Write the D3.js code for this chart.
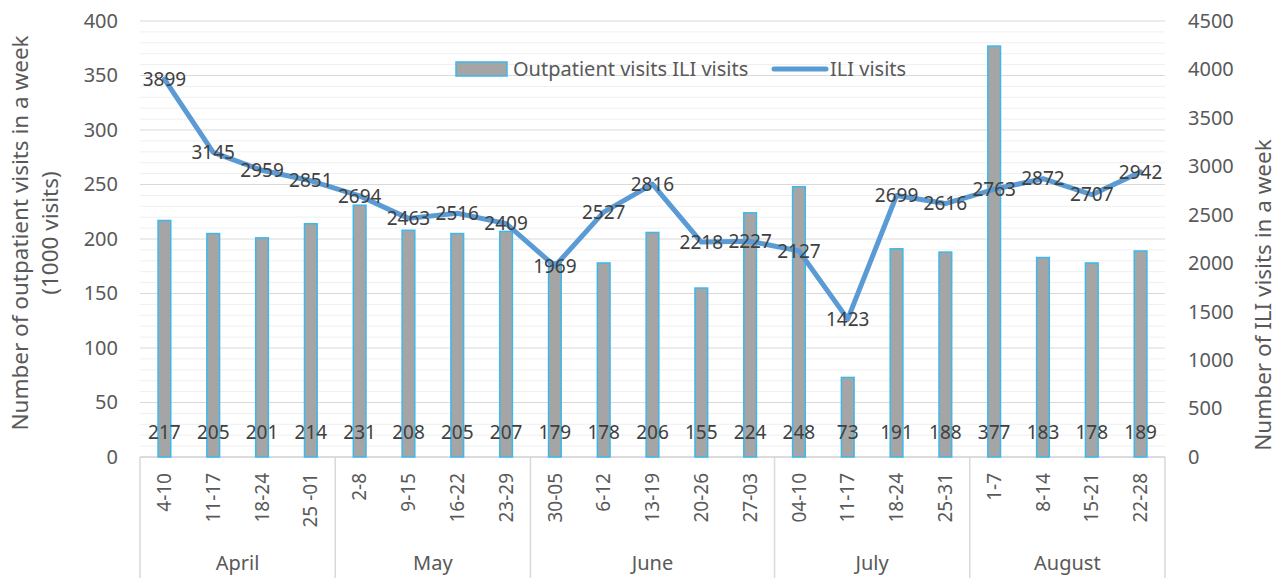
<!DOCTYPE html>
<html>
<head>
<meta charset="utf-8">
<script src="https://cdn.jsdelivr.net/npm/d3@7"></script>
<style>
  body { margin: 0; background: #fff; }
  svg text { font-family: "Noto Sans", "Open Sans", sans-serif; }
</style>
</head>
<body>
<svg id="chart"></svg>
<script>
// weeks and months
const weeks = ["4-10", "11-17", "18-24", "25 -01", "2-8", "9-15", "16-22", "23-29",
    "30-05", "6-12", "13-19", "20-26", "27-03", "04-10", "11-17", "18-24", "25-31",
    "1-7", "8-14", "15-21", "22-28"];
const months = ["April", "May", "June", "July", "August"];
const monthWeeks = [4, 4, 5, 4, 4];

// outpatient visits (1000 visits) - bars, left axis
const outpatient = [217, 205, 201, 214, 231, 208, 205, 207, 179, 178, 206, 155, 224,
    248, 73, 191, 188, 377, 183, 178, 189];
// ILI visits - line, right axis
const iliVisits = [3899, 3145, 2959, 2851, 2694, 2463, 2516, 2409, 1969, 2527, 2816,
    2218, 2227, 2127, 1423, 2699, 2616, 2763, 2872, 2707, 2942];

const leftTicks = [0, 50, 100, 150, 200, 250, 300, 350, 400];
const rightTicks = [0, 500, 1000, 1500, 2000, 2500, 3000, 3500, 4000, 4500];

const W = 1277, H = 578;
const plotL = 140, plotR = 1165, plotT = 21, plotB = 457;

const svg = d3.select("#chart")
    .attr("width", W)
    .attr("height", H);

const x = d3.scaleBand()
    .domain(d3.range(weeks.length))
    .range([plotL, plotR])
    .paddingInner(0.74)
    .paddingOuter(0.37);

const yL = d3.scaleLinear().domain([0, 400]).range([plotB, plotT]);
const yR = d3.scaleLinear().domain([0, 4500]).range([plotB, plotT]);
const cx = i => x(i) + x.bandwidth() / 2;

// minor gridlines
svg.append("g")
    .selectAll("line")
    .data(d3.range(0, 401, 10).filter(v => v % 50 != 0))
    .enter()
    .append("line")
    .attr("x1", plotL).attr("x2", plotR)
    .attr("y1", d => yL(d)).attr("y2", d => yL(d))
    .attr("stroke", "#efefef")
    .attr("stroke-width", 1);

// major gridlines
svg.append("g")
    .selectAll("line")
    .data(leftTicks.filter(v => v > 0))
    .enter()
    .append("line")
    .attr("x1", plotL).attr("x2", plotR)
    .attr("y1", d => yL(d)).attr("y2", d => yL(d))
    .attr("stroke", "#d9d9d9")
    .attr("stroke-width", 1);

// left axis
const axL = svg.append("g")
    .attr("transform", `translate(${plotL - 22},0)`)
    .call(d3.axisLeft(yL).tickValues(leftTicks).tickSize(0).tickPadding(0));
axL.select(".domain").remove();
axL.selectAll("text").attr("font-size", 20).attr("fill", "#595959")
    .style("font-family", "Noto Sans");

// right axis
const axR = svg.append("g")
    .attr("transform", `translate(${plotR + 23},0)`)
    .call(d3.axisRight(yR).tickValues(rightTicks).tickFormat(d3.format("d"))
        .tickSize(0).tickPadding(0));
axR.select(".domain").remove();
axR.selectAll("text").attr("font-size", 20).attr("fill", "#595959")
    .style("font-family", "Noto Sans");

// category axis: baseline and month group separators
svg.append("line")
    .attr("x1", plotL).attr("x2", plotR)
    .attr("y1", plotB).attr("y2", plotB)
    .attr("stroke", "#d0d0d0")
    .attr("stroke-width", 1.5);

const bounds = [0];
monthWeeks.forEach(n => bounds.push(bounds[bounds.length - 1] + n));
const step = x.step();
const edge = i => plotL + i * step;

svg.append("g")
    .selectAll("line")
    .data(bounds)
    .enter()
    .append("line")
    .attr("x1", d => edge(d)).attr("x2", d => edge(d))
    .attr("y1", plotB).attr("y2", H)
    .attr("stroke", "#d9d9d9")
    .attr("stroke-width", 1.5);

svg.append("g")
    .selectAll("text")
    .data(weeks)
    .enter()
    .append("text")
    .attr("transform", (d, i) => `translate(${cx(i)},${plotB + 16}) rotate(-90)`)
    .attr("text-anchor", "end")
    .attr("dy", "0.35em")
    .attr("font-size", 19)
    .attr("fill", "#595959")
    .text(d => d);

svg.append("g")
    .selectAll("text")
    .data(months)
    .enter()
    .append("text")
    .attr("x", (d, i) => (edge(bounds[i]) + edge(bounds[i + 1])) / 2)
    .attr("y", 570)
    .attr("text-anchor", "middle")
    .attr("font-size", 20)
    .attr("fill", "#595959")
    .text(d => d);

// bars
svg.append("g")
    .selectAll("rect")
    .data(outpatient)
    .enter()
    .append("rect")
    .attr("x", (d, i) => x(i))
    .attr("y", d => yL(d))
    .attr("width", x.bandwidth())
    .attr("height", d => yL(0) - yL(d))
    .attr("fill", "#a5a5a5")
    .attr("stroke", "#3cb8ec")
    .attr("stroke-width", 1.5);

// line
const line = d3.line()
    .x((d, i) => cx(i))
    .y(d => yR(d));

svg.append("path")
    .datum(iliVisits)
    .attr("d", line)
    .attr("fill", "none")
    .attr("stroke", "#5b9bd5")
    .attr("stroke-width", 5)
    .attr("stroke-linejoin", "round")
    .attr("stroke-linecap", "round");

// bar labels (inside base)
svg.append("g")
    .selectAll("text")
    .data(outpatient)
    .enter()
    .append("text")
    .attr("x", (d, i) => cx(i))
    .attr("y", yL(0) - 25)
    .attr("dy", "0.35em")
    .attr("text-anchor", "middle")
    .attr("font-size", 19)
    .attr("fill", "#404040")
    .text(d => d);

// line labels (centered)
svg.append("g")
    .selectAll("text")
    .data(iliVisits)
    .enter()
    .append("text")
    .attr("x", (d, i) => cx(i))
    .attr("y", d => yR(d))
    .attr("dy", "0.35em")
    .attr("text-anchor", "middle")
    .attr("font-size", 19)
    .attr("fill", "#404040")
    .text(d => d);

// axis titles
svg.append("text")
    .attr("transform", "translate(20,233) rotate(-90)")
    .attr("text-anchor", "middle")
    .attr("dy", "0.35em")
    .attr("font-size", 22.5)
    .attr("fill", "#595959")
    .text("Number of outpatient visits in a week");
svg.append("text")
    .attr("transform", "translate(50,233) rotate(-90)")
    .attr("text-anchor", "middle")
    .attr("dy", "0.35em")
    .attr("font-size", 22.5)
    .attr("fill", "#595959")
    .text("(1000 visits)");
svg.append("text")
    .attr("transform", "translate(1263,295) rotate(-90)")
    .attr("text-anchor", "middle")
    .attr("dy", "0.35em")
    .attr("font-size", 22.5)
    .attr("fill", "#595959")
    .text("Number of ILI visits in a week");

// legend
const legend = svg.append("g");
legend.append("rect")
    .attr("x", 456).attr("y", 62)
    .attr("width", 51).attr("height", 14)
    .attr("fill", "#a5a5a5")
    .attr("stroke", "#3cb8ec")
    .attr("stroke-width", 1.5);
legend.append("text")
    .attr("x", 513).attr("y", 69)
    .attr("dy", "0.35em")
    .attr("font-size", 20)
    .attr("fill", "#595959")
    .text("Outpatient visits ILI visits");
legend.append("line")
    .attr("x1", 774).attr("x2", 826)
    .attr("y1", 69).attr("y2", 69)
    .attr("stroke", "#5b9bd5")
    .attr("stroke-width", 5)
    .attr("stroke-linecap", "round");
legend.append("text")
    .attr("x", 830).attr("y", 69)
    .attr("dy", "0.35em")
    .attr("font-size", 20)
    .attr("fill", "#595959")
    .text("ILI visits");
</script>
</body>
</html>
